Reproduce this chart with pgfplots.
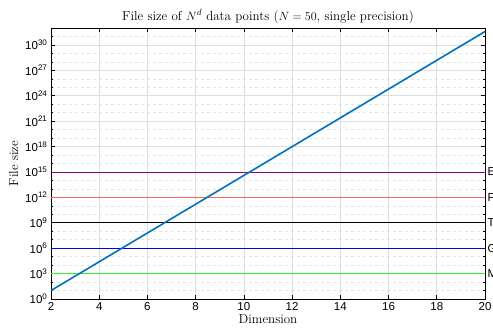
\documentclass[border=0pt]{standalone}
\usepackage{fontspec}
\usepackage{pgfplots}
\pgfplotsset{compat=1.18}
\usetikzlibrary{calc}
\newfontfamily\tickfont{Liberation Sans}
\begin{document}
\begin{tikzpicture}
\begin{axis}[name=ax, scale only axis, width=434pt, height=271pt,
  xmin=2, xmax=20, ymode=log, ymin=1, ymax=1e32,
  clip=false,
  xtick={2,4,...,20},
  ytick={1,1e3,1e6,1e9,1e12,1e15,1e18,1e21,1e24,1e27,1e30},
  yticklabels={10\textsuperscript{0},10\textsuperscript{3},10\textsuperscript{6},10\textsuperscript{9},10\textsuperscript{12},10\textsuperscript{15},10\textsuperscript{18},10\textsuperscript{21},10\textsuperscript{24},10\textsuperscript{27},10\textsuperscript{30}},
  minor ytick={1e1,1e2,1e4,1e5,1e7,1e8,1e10,1e11,1e13,1e14,1e16,1e17,1e19,1e20,1e22,1e23,1e25,1e26,1e28,1e29,1e31},
  xticklabel style={font=\tickfont\fontsize{11.5}{12}\selectfont},
  yticklabel style={font=\tickfont\fontsize{11.5}{12}\selectfont},
  /pgf/number format/assume math mode=true,
  grid=both,
  major grid style={black!13, line width=0.6pt},
  minor grid style={black!11, dashed, line width=0.5pt},
  tick align=inside, xtick pos=both, ytick pos=both,
  major tick length=4.5pt, minor tick length=2.5pt,
  tick style={black, line width=0.6pt},
  axis line style={black, line width=0.7pt},
  title={File size of $N^d$ data points ($N=50$, single precision)},
  title style={font=\fontsize{13}{15}\selectfont, yshift=-5pt},
  xlabel={Dimension},
  ylabel={File size},
  xlabel style={font=\fontsize{13}{15}\selectfont, yshift=3pt},
  ylabel style={font=\fontsize{13}{15}\selectfont, yshift=0pt},
]
\addplot[draw={rgb,1:red,0.2;green,0.95;blue,0.2}, line width=1.2pt] coordinates {(2,1e3) (20,1e3)};
\addplot[draw={rgb,1:red,0;green,0;blue,1}, line width=0.8pt] coordinates {(2,1e6) (20,1e6)};
\addplot[draw=black, line width=0.8pt] coordinates {(2,1e9) (20,1e9)};
\addplot[draw={rgb,1:red,1;green,0.38;blue,0.38}, line width=1.2pt] coordinates {(2,1e12) (20,1e12)};
\addplot[draw={rgb,1:red,0.55;green,0;blue,0.55}, line width=0.8pt] coordinates {(2,1e15) (20,1e15)};
\addplot[draw={rgb,1:red,0;green,0.447;blue,0.741}, line width=1.6pt] coordinates {
(2,10) (3,500) (4,2.5e4) (5,1.25e6) (6,6.25e7) (7,3.125e9) (8,1.5625e11)
(9,7.8125e12) (10,3.90625e14) (11,1.953e16) (12,9.766e17) (13,4.883e19)
(14,2.441e21) (15,1.221e23) (16,6.104e24) (17,3.052e26) (18,1.526e28)
(19,7.629e29) (20,3.815e31)};
\node[anchor=west, inner sep=0pt, font=\tickfont\fontsize{11.5}{12}\selectfont] at (axis cs:20,1e3) {\hspace{2.5pt}MB};
\node[anchor=west, inner sep=0pt, font=\tickfont\fontsize{11.5}{12}\selectfont] at (axis cs:20,1e6) {\hspace{2.5pt}GB};
\node[anchor=west, inner sep=0pt, font=\tickfont\fontsize{11.5}{12}\selectfont] at (axis cs:20,1e9) {\hspace{2.5pt}TB};
\node[anchor=west, inner sep=0pt, font=\tickfont\fontsize{11.5}{12}\selectfont] at (axis cs:20,1e12) {\hspace{2.5pt}PB};
\node[anchor=west, inner sep=0pt, font=\tickfont\fontsize{11.5}{12}\selectfont] at (axis cs:20,1e15) {\hspace{2.5pt}EB};
\end{axis}
\pgfresetboundingbox
\path ($(ax.south west)+(-51pt,-28pt)$) rectangle ($(ax.north east)+(8pt,28pt)$);
\end{tikzpicture}
\end{document}
